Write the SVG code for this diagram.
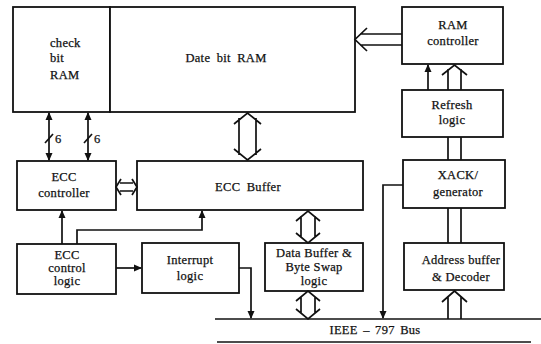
<svg xmlns="http://www.w3.org/2000/svg" width="541" height="344" viewBox="0 0 541 344">
<style>
.box{fill:#fff;stroke:#111;stroke-width:1.8}
.ln{fill:none;stroke:#111;stroke-width:1.7}
text{font-family:"Liberation Serif","DejaVu Serif","Times New Roman",serif;font-size:12.5px;fill:#111;stroke:#111;stroke-width:0.25;text-anchor:middle;letter-spacing:0.3px}
.tl{text-anchor:start}
</style>
<defs>
<marker id="ah" markerWidth="8" markerHeight="8" refX="7" refY="4" orient="auto-start-reverse" markerUnits="userSpaceOnUse">
<path d="M0,0.5 L8,4 L0,7.5 Z" fill="#111"/>
</marker>
</defs>
<rect width="541" height="344" fill="#fff"/>
<g id="check-bit-ram"><rect class="box" x="13" y="7" width="97" height="105"/>
<text class="tl" x="50" y="47">check</text><text class="tl" x="50" y="62">bit</text><text class="tl" x="50" y="79">RAM</text></g>
<g id="date-bit-ram"><rect class="box" x="110" y="7" width="245" height="105"/>
<text x="226" y="62" word-spacing="3">Date bit RAM</text></g>
<g id="ram-controller"><rect class="box" x="402" y="7" width="101" height="57"/>
<text x="453" y="29">RAM</text><text x="453" y="45">controller</text></g>
<g id="refresh-logic"><rect class="box" x="402" y="90" width="101" height="47"/>
<text x="452" y="109">Refresh</text><text x="452" y="124">logic</text></g>
<g id="xack-generator"><rect class="box" x="403" y="160" width="102" height="48"/>
<text x="458" y="179">XACK/</text><text x="458" y="196">generator</text></g>
<g id="address-buffer"><rect class="box" x="404" y="243" width="100" height="47"/>
<text x="461" y="264">Address buffer</text><text x="461" y="281">&amp; Decoder</text></g>
<g id="ecc-controller"><rect class="box" x="17" y="161" width="99" height="49"/>
<text x="64" y="181">ECC</text><text x="64" y="197">controller</text></g>
<g id="ecc-buffer"><rect class="box" x="137" y="161" width="226" height="49"/>
<text x="248" y="191" word-spacing="3">ECC Buffer</text></g>
<g id="ecc-control-logic"><rect class="box" x="17" y="244" width="99" height="50"/>
<text x="67" y="259">ECC</text><text x="67" y="272">control</text><text x="67" y="285">logic</text></g>
<g id="interrupt-logic"><rect class="box" x="142" y="243" width="97" height="50"/>
<text x="190" y="264">Interrupt</text><text x="190" y="280">logic</text></g>
<g id="data-buffer"><rect class="box" x="265" y="243" width="98" height="48"/>
<text x="314" y="257">Data Buffer &amp;</text><text x="314" y="271">Byte Swap</text><text x="314" y="285">logic</text></g>
<g id="bus">
<line class="ln" x1="215" y1="319" x2="541" y2="319"/>
<line class="ln" x1="217" y1="342" x2="531" y2="342"/>
<text x="375" y="334" word-spacing="2">IEEE – 797 Bus</text></g>
<g id="connectors">
<line class="ln" x1="49" y1="113" x2="49" y2="160" marker-start="url(#ah)" marker-end="url(#ah)"/>
<line class="ln" x1="88" y1="113" x2="88" y2="160" marker-start="url(#ah)" marker-end="url(#ah)"/>
<line class="ln" x1="45" y1="143" x2="53" y2="134"/>
<line class="ln" x1="84" y1="143" x2="92" y2="134"/>
<text class="tl" x="55" y="143">6</text>
<text class="tl" x="94" y="143">6</text>
<path class="ln" d="M239,118 V155 M256,118 V155 M234,124 L247.5,113 L261,124 M234,149 L247.5,160 L261,149"/>
<path class="ln" d="M402,34 H360 M402,45 H360 M367,28 L355,39.5 L367,51"/>
<line class="ln" x1="428" y1="90" x2="428" y2="65" marker-end="url(#ah)"/>
<path class="ln" d="M448,90 V69 M461,90 V69 M442,75 L454.5,65 L467,75"/>
<path class="ln" d="M448,137 V160 M461,137 V160"/>
<path class="ln" d="M448,208 V243 M461,208 V243"/>
<path class="ln" d="M448,319 V296 M461,319 V296 M442,302 L454.5,291 L467,302"/>
<path class="ln" d="M403,185 H383 V318" marker-end="url(#ah)"/>
<path class="ln" d="M301,216 V237 M315,216 V237 M296,221 L308,211 L320,221 M296,233 L308,243 L320,233"/>
<path class="ln" d="M301,297 V313 M315,297 V313 M296,301 L308,291 L320,301 M296,309 L308,319 L320,309"/>
<path class="ln" d="M239,268 H251 V318" marker-end="url(#ah)"/>
<line class="ln" x1="116" y1="268" x2="141" y2="268" marker-end="url(#ah)"/>
<line class="ln" x1="62" y1="244" x2="62" y2="211" marker-end="url(#ah)"/>
<path class="ln" d="M77,244 V230 H202 V211" marker-end="url(#ah)"/>
<path class="ln" d="M120,183 H133 M120,191 H133 M121,179 L116,187 L121,195 M132,179 L137,187 L132,195"/>
</g>
</svg>
